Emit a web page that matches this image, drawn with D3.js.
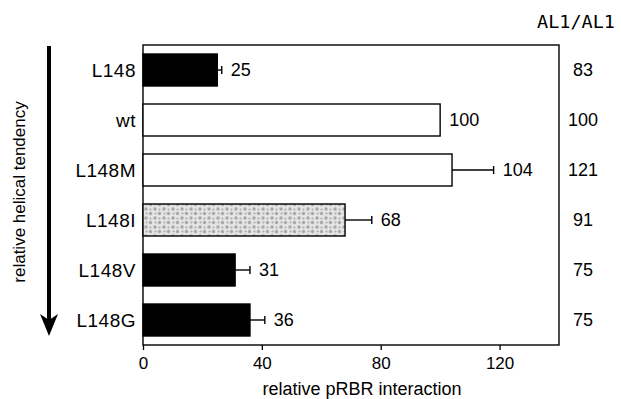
<!DOCTYPE html>
<html>
<head>
<meta charset="utf-8">
<script src="https://cdn.jsdelivr.net/npm/d3@7"></script>
<style>
  body { margin: 0; background: #fff; }
  svg text { font-family: "Liberation Sans", Arial, sans-serif; fill: #000; }
</style>
</head>
<body>
<svg id="chart" width="621" height="399"></svg>
<script>
//////////////////////////////////////////////////////// DATOS

var variants = ["L148", "wt", "L148M", "L148I", "L148V", "L148G"];
var interaction = [25, 100, 104, 68, 31, 36];
var errors = [1.5, 0, 14, 9, 5, 5];
var al1 = [83, 100, 121, 91, 75, 75];
var fills = ["black", "white", "white", "dots", "black", "black"];
var xTicks = [0, 40, 80, 120];

//////////////////////////////////////////////////////// ESCALAS

var plotL = 143, plotR = 559, plotT = 45, plotB = 345;

var svg = d3.select("#chart");

var x = d3.scaleLinear().domain([0, 140]).range([plotL, plotR]);
var y = d3.scaleBand().domain(variants).range([plotT, plotB])
  .paddingInner(0.36).paddingOuter(0.18);

// patron punteado para L148I
var pat = svg.append("defs").append("pattern")
  .attr("id", "dots")
  .attr("patternUnits", "userSpaceOnUse")
  .attr("width", 9).attr("height", 9);
pat.append("rect").attr("width", 9).attr("height", 9).attr("fill", "#e4e4e4");
[[2, 2], [6.5, 6.5], [6.5, 2.5], [2.5, 6.5]].forEach(function (p, i) {
  pat.append("circle").attr("cx", p[0]).attr("cy", p[1])
    .attr("r", i < 2 ? 1.7 : 1.0).attr("fill", "#a8a8a8");
});

//////////////////////////////////////////////////////// MARCO Y EJE X

svg.append("rect")
  .attr("x", plotL).attr("y", plotT)
  .attr("width", plotR - plotL).attr("height", plotB - plotT)
  .attr("fill", "none").attr("stroke", "#000").attr("stroke-width", 1.4);

var xAxis = svg.append("g")
  .attr("transform", "translate(0," + plotB + ")")
  .call(d3.axisBottom(x).tickValues(xTicks).tickSize(5).tickPadding(7));
xAxis.select(".domain").remove();
xAxis.selectAll("line").attr("stroke", "#000").attr("stroke-width", 1.3);
xAxis.selectAll("text")
  .attr("font-size", 17)
  .style("font-family", "'Liberation Sans', Arial, sans-serif");

svg.append("text")
  .attr("x", 362).attr("y", 395)
  .attr("text-anchor", "middle")
  .attr("font-size", 18)
  .text("relative pRBR interaction");

//////////////////////////////////////////////////////// BARRAS

var rows = svg.selectAll(".row").data(variants).enter()
  .append("g").attr("class", "row");

rows.append("rect")
  .attr("x", x(0))
  .attr("y", function (d) { return y(d); })
  .attr("width", function (d, i) { return x(interaction[i]) - x(0); })
  .attr("height", y.bandwidth())
  .attr("fill", function (d, i) { return fills[i] == "dots" ? "url(#dots)" : fills[i]; })
  .attr("stroke", "#000")
  .attr("stroke-width", 1.4);

// barras de error
rows.filter(function (d, i) { return errors[i] > 0; }).each(function (d) {
  var i = variants.indexOf(d);
  var cy = y(d) + y.bandwidth() / 2;
  var g = d3.select(this);
  g.append("line")
    .attr("x1", x(interaction[i])).attr("x2", x(interaction[i] + errors[i]))
    .attr("y1", cy).attr("y2", cy)
    .attr("stroke", "#000").attr("stroke-width", 1.4);
  g.append("line")
    .attr("x1", x(interaction[i] + errors[i])).attr("x2", x(interaction[i] + errors[i]))
    .attr("y1", cy - 4).attr("y2", cy + 4)
    .attr("stroke", "#000").attr("stroke-width", 1.4);
});

// valores
rows.append("text")
  .attr("x", function (d, i) { return x(interaction[i] + errors[i]) + 9; })
  .attr("y", function (d) { return y(d) + y.bandwidth() / 2; })
  .attr("dy", "0.35em")
  .attr("font-size", 18)
  .text(function (d, i) { return interaction[i]; });

// nombres de variantes
rows.append("text")
  .attr("x", 136)
  .attr("y", function (d) { return y(d) + y.bandwidth() / 2; })
  .attr("dy", "0.35em")
  .attr("text-anchor", "end")
  .attr("font-size", 19)
  .attr("letter-spacing", 0.5)
  .text(function (d) { return d; });

// columna AL1/AL1
rows.append("text")
  .attr("x", 583)
  .attr("y", function (d) { return y(d) + y.bandwidth() / 2; })
  .attr("dy", "0.35em")
  .attr("text-anchor", "middle")
  .attr("font-size", 18)
  .text(function (d, i) { return al1[i]; });

svg.append("text")
  .attr("x", 576).attr("y", 28)
  .attr("text-anchor", "middle")
  .attr("font-size", 18.5)
  .style("font-family", "'DejaVu Sans Mono', 'Liberation Mono', monospace")
  .text("AL1/AL1");

//////////////////////////////////////////////////////// FLECHA

svg.append("line")
  .attr("x1", 49).attr("x2", 49)
  .attr("y1", 46).attr("y2", 322)
  .attr("stroke", "#000").attr("stroke-width", 4);
svg.append("path")
  .attr("d", "M40,314 L49,336 L58,314 L49,320 Z")
  .attr("fill", "#000");

svg.append("text")
  .attr("transform", "translate(25,192) rotate(-90)")
  .attr("text-anchor", "middle")
  .attr("font-size", 17)
  .text("relative helical tendency");
</script>
</body>
</html>
